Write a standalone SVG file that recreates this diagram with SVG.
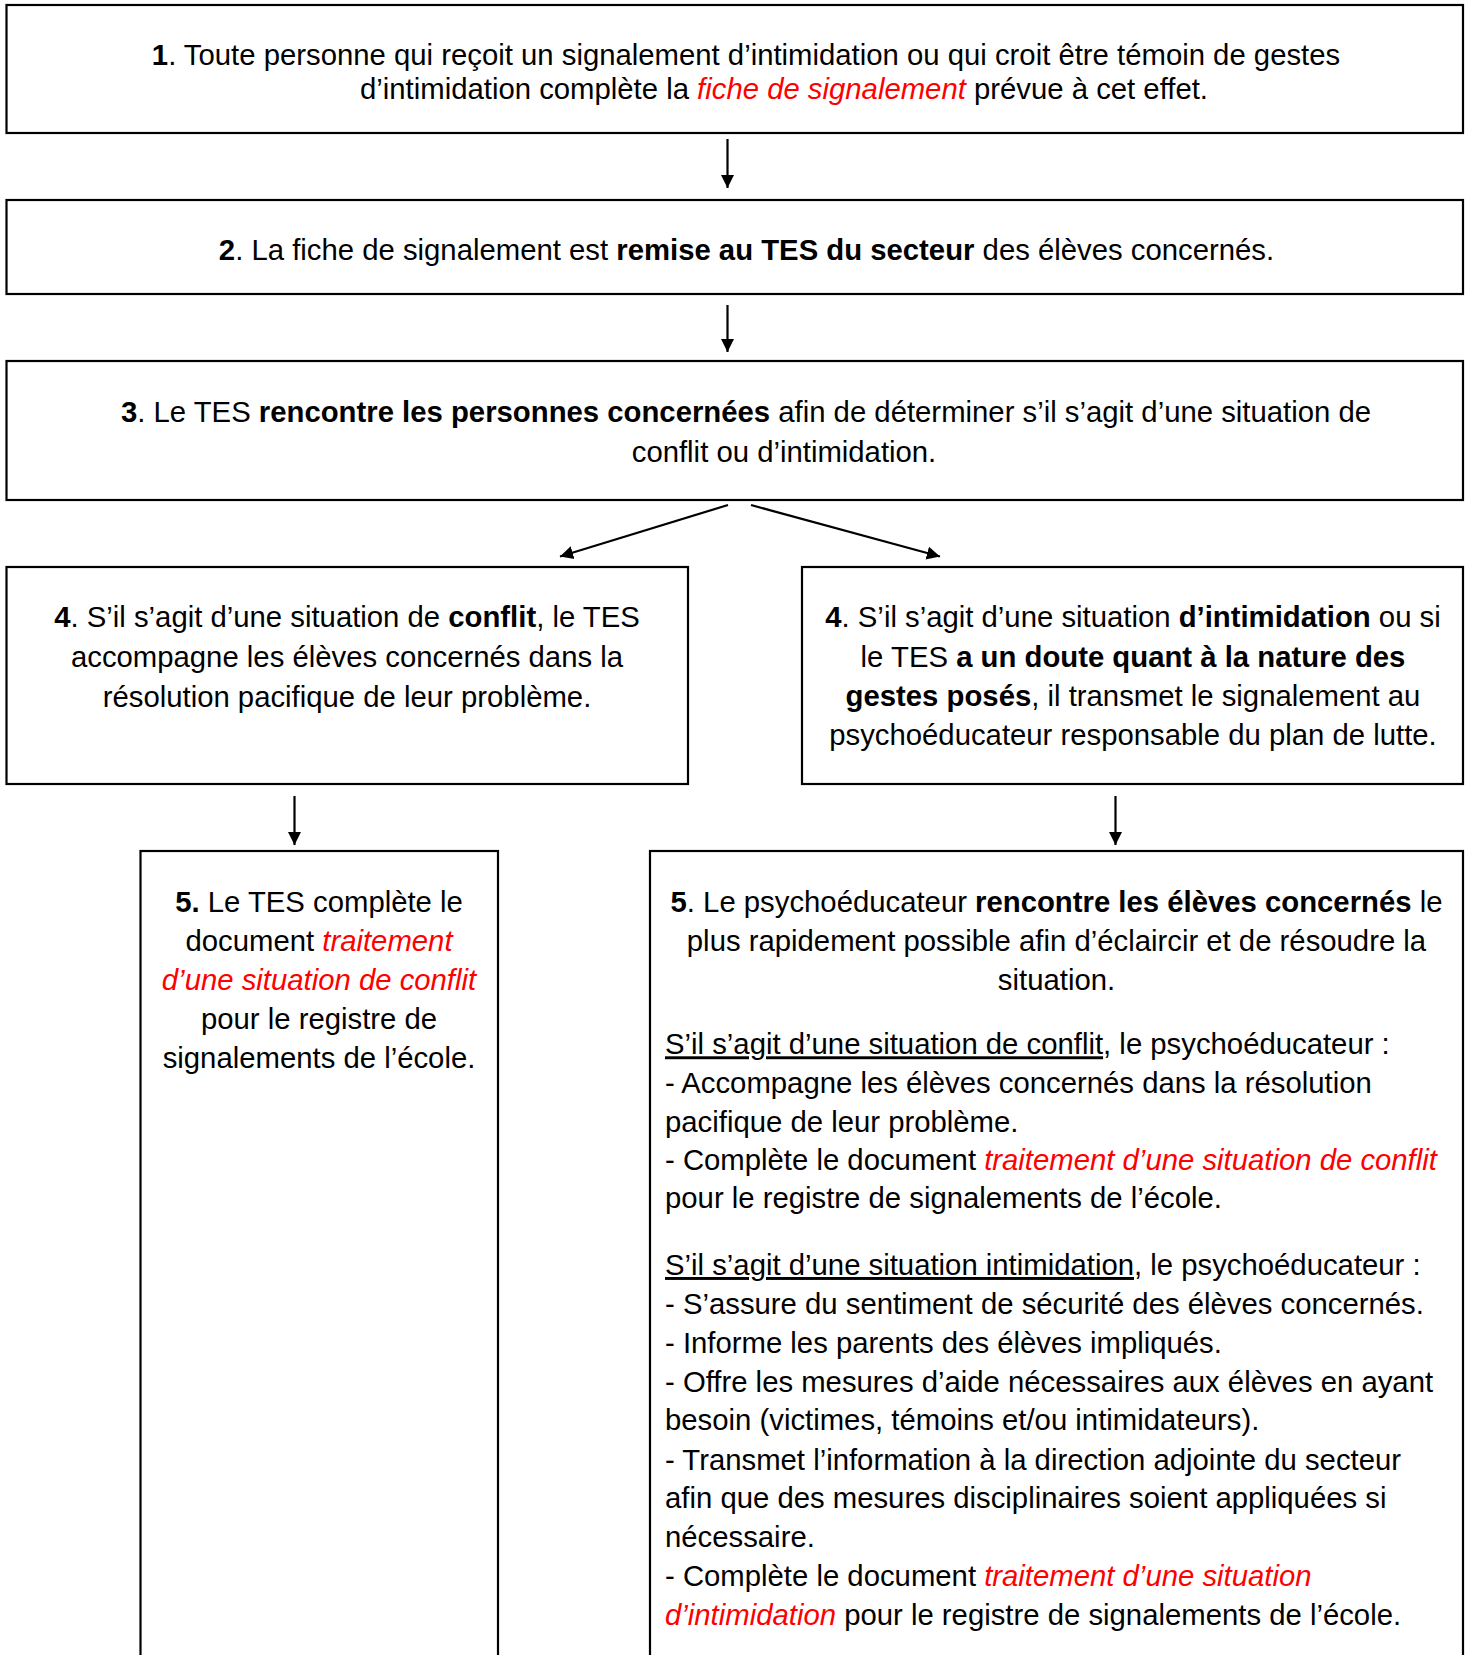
<svg xmlns="http://www.w3.org/2000/svg" width="1470" height="1655" viewBox="0 0 1470 1655">
<defs>
<marker id="ah" viewBox="0 0 10 10" refX="10" refY="5" markerWidth="6" markerHeight="7" markerUnits="strokeWidth" orient="auto">
<path d="M0,0 L10,5 L0,10 z" fill="#000"/>
</marker>
<style>
.box{fill:#fff;stroke:#000;stroke-width:2.2}
text{font-family:"Liberation Sans",Arial,sans-serif;font-size:29.3px;fill:#000}
.c{text-anchor:middle}
.b{font-weight:bold}
.r{fill:#ff0000;font-style:italic}
.u{text-decoration:underline}
.conn line{stroke:#000;stroke-width:2.2;marker-end:url(#ah)}
</style>
</defs>
<rect width="1470" height="1655" fill="#fff"/>
<g id="n1">
<rect class="box" x="6.5" y="5" width="1456.5" height="128"/>
<text class="c" x="746" y="65"><tspan class="b">1</tspan>. Toute personne qui reçoit un signalement d’intimidation ou qui croit être témoin de gestes</text>
<text class="c" x="784" y="99.3">d’intimidation complète la <tspan class="r">fiche de signalement</tspan> prévue à cet effet.</text>
</g>
<g id="n2">
<rect class="box" x="6.5" y="200" width="1456.5" height="94"/>
<text class="c" x="746.5" y="260"><tspan class="b">2</tspan>. La fiche de signalement est <tspan class="b">remise au TES du secteur</tspan> des élèves concernés.</text>
</g>
<g id="n3">
<rect class="box" x="6.5" y="361" width="1456.5" height="139"/>
<text class="c" x="746" y="421.5"><tspan class="b">3</tspan>. Le TES <tspan class="b">rencontre les personnes concernées</tspan> afin de déterminer s’il s’agit d’une situation de</text>
<text class="c" x="784" y="461.5">conflit ou d’intimidation.</text>
</g>
<g id="n4a">
<rect class="box" x="6.5" y="567" width="681.5" height="217"/>
<text class="c" x="347" y="627.3"><tspan class="b">4</tspan>. S’il s’agit d’une situation de <tspan class="b">conflit</tspan>, le TES</text>
<text class="c" x="347" y="666.7">accompagne les élèves concernés dans la</text>
<text class="c" x="347" y="706.5">résolution pacifique de leur problème.</text>
</g>
<g id="n4b">
<rect class="box" x="802" y="567" width="661" height="217"/>
<text class="c" x="1133" y="627.3"><tspan class="b">4</tspan>. S’il s’agit d’une situation <tspan class="b">d’intimidation</tspan> ou si</text>
<text class="c" x="1133" y="666.7">le TES <tspan class="b">a un doute quant à la nature des</tspan></text>
<text class="c" x="1133" y="706"><tspan class="b">gestes posés</tspan>, il transmet le signalement au</text>
<text class="c" x="1133" y="745">psychoéducateur responsable du plan de lutte.</text>
</g>
<g id="n5a">
<rect class="box" x="140.5" y="851" width="357.5" height="830"/>
<text class="c" x="319" y="911.7"><tspan class="b">5.</tspan> Le TES complète le</text>
<text class="c" x="319" y="950.7">document <tspan class="r">traitement</tspan></text>
<text class="c" x="319" y="989.7"><tspan class="r">d’une situation de conflit</tspan></text>
<text class="c" x="319" y="1028.7">pour le registre de</text>
<text class="c" x="319" y="1067.7">signalements de l’école.</text>
</g>
<g id="n5b">
<rect class="box" x="650" y="851" width="813" height="830"/>
<text class="c" x="1056.5" y="911.7"><tspan class="b">5</tspan>. Le psychoéducateur <tspan class="b">rencontre les élèves concernés</tspan> le</text>
<text class="c" x="1056.5" y="950.7">plus rapidement possible afin d’éclaircir et de résoudre la</text>
<text class="c" x="1056.5" y="989.7">situation.</text>
<text x="665" y="1054.3"><tspan class="u">S’il s’agit d’une situation de conflit</tspan>, le psychoéducateur :</text>
<text x="665" y="1093.3">- Accompagne les élèves concernés dans la résolution</text>
<text x="665" y="1131.7">pacifique de leur problème.</text>
<text x="665" y="1170">- Complète le document <tspan class="r">traitement d’une situation de conflit</tspan></text>
<text x="665" y="1208.3">pour le registre de signalements de l’école.</text>
<text x="665" y="1275"><tspan class="u">S’il s’agit d’une situation intimidation</tspan>, le psychoéducateur :</text>
<text x="665" y="1314">- S’assure du sentiment de sécurité des élèves concernés.</text>
<text x="665" y="1353.3">- Informe les parents des élèves impliqués.</text>
<text x="665" y="1391.7">- Offre les mesures d’aide nécessaires aux élèves en ayant</text>
<text x="665" y="1430">besoin (victimes, témoins et/ou intimidateurs).</text>
<text x="665" y="1470">- Transmet l’information à la direction adjointe du secteur</text>
<text x="665" y="1508.3">afin que des mesures disciplinaires soient appliquées si</text>
<text x="665" y="1547.3">nécessaire.</text>
<text x="665" y="1585.7">- Complète le document <tspan class="r">traitement d’une situation</tspan></text>
<text x="665" y="1625"><tspan class="r">d’intimidation</tspan> pour le registre de signalements de l’école.</text>
</g>
<g id="connectors" class="conn">
<line x1="727.5" y1="139" x2="727.5" y2="188"/>
<line x1="727.5" y1="305" x2="727.5" y2="352"/>
<line x1="728" y1="505" x2="560" y2="556.5"/>
<line x1="751" y1="505" x2="940" y2="556.5"/>
<line x1="294.5" y1="796" x2="294.5" y2="845"/>
<line x1="1115.5" y1="796" x2="1115.5" y2="845"/>
</g>
</svg>
